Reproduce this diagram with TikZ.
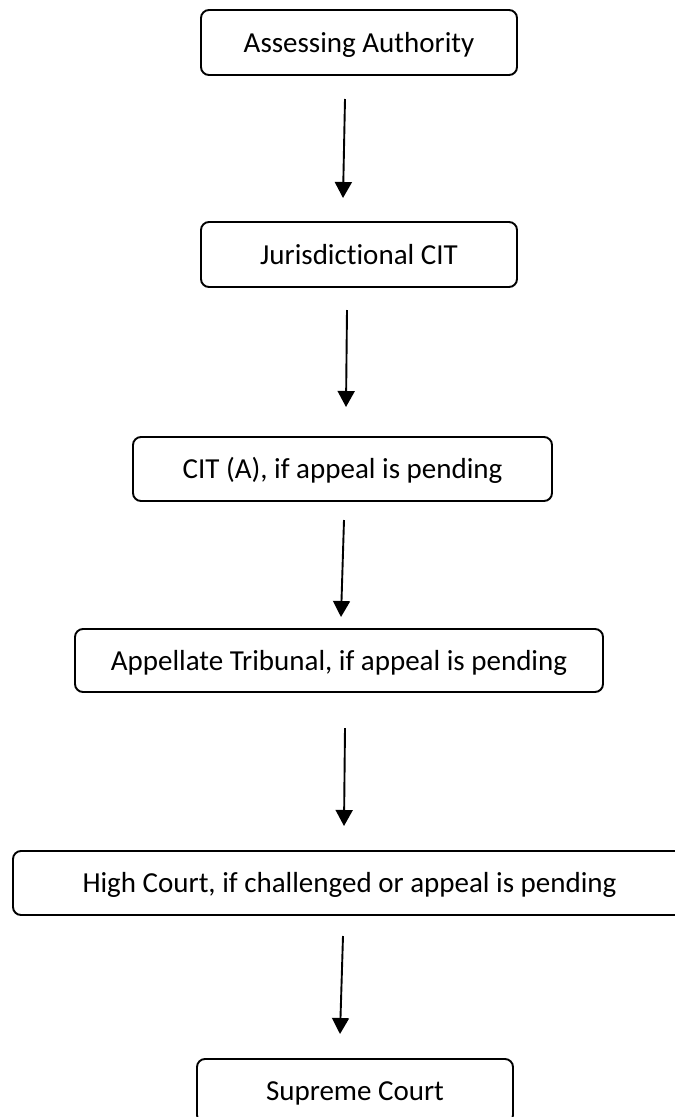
\documentclass[tikz,border=0pt]{standalone}
\usepackage{fontspec}
\setmainfont{Carlito}[Ligatures=NoCommon]
\usetikzlibrary{arrows.meta}
\tikzset{
  stagebox/.style={draw=black, line width=1.9pt, rounded corners=8pt, fill=white,
    inner sep=0pt, text height=24pt, text depth=5pt,
    font=\fontsize{29}{35}\selectfont},
  flowarrow/.style={line width=1.9pt, -{Triangle[length=16pt,width=17pt]}}
}
\begin{document}
\begin{tikzpicture}[x=1pt,y=-1pt]
\useasboundingbox (0,0) rectangle (675,1117);
\clip (0,0) rectangle (675,1117);
\node[stagebox, minimum width=316pt, minimum height=65pt] (n1) at (359,42.5) {Assessing Authority};
\node[stagebox, minimum width=316pt, minimum height=65pt] (n2) at (359,254.5) {Jurisdictional CIT};
\node[stagebox, minimum width=419pt, minimum height=64pt] (n3) at (342.5,469) {CIT (A), if appeal is pending};
\node[stagebox, minimum width=528pt, minimum height=63pt] (n4) at (339,660.5) {Appellate Tribunal, if appeal is pending};
\node[stagebox, minimum width=673pt, minimum height=64pt] (n5) at (349.5,883) {High Court, if challenged or appeal is pending};
\node[stagebox, minimum width=316pt, minimum height=64pt] (n6) at (355,1091) {Supreme Court};
\coordinate (a1s) at (345,99);  \coordinate (a1e) at (343,198);
\coordinate (a2s) at (347,310); \coordinate (a2e) at (346,407);
\coordinate (a3s) at (344,520); \coordinate (a3e) at (341,617);
\coordinate (a4s) at (345,728); \coordinate (a4e) at (344,826);
\coordinate (a5s) at (343,936); \coordinate (a5e) at (340,1034);
\draw[flowarrow] (a1s) -- (a1e);
\draw[flowarrow] (a2s) -- (a2e);
\draw[flowarrow] (a3s) -- (a3e);
\draw[flowarrow] (a4s) -- (a4e);
\draw[flowarrow] (a5s) -- (a5e);
\end{tikzpicture}
\end{document}
